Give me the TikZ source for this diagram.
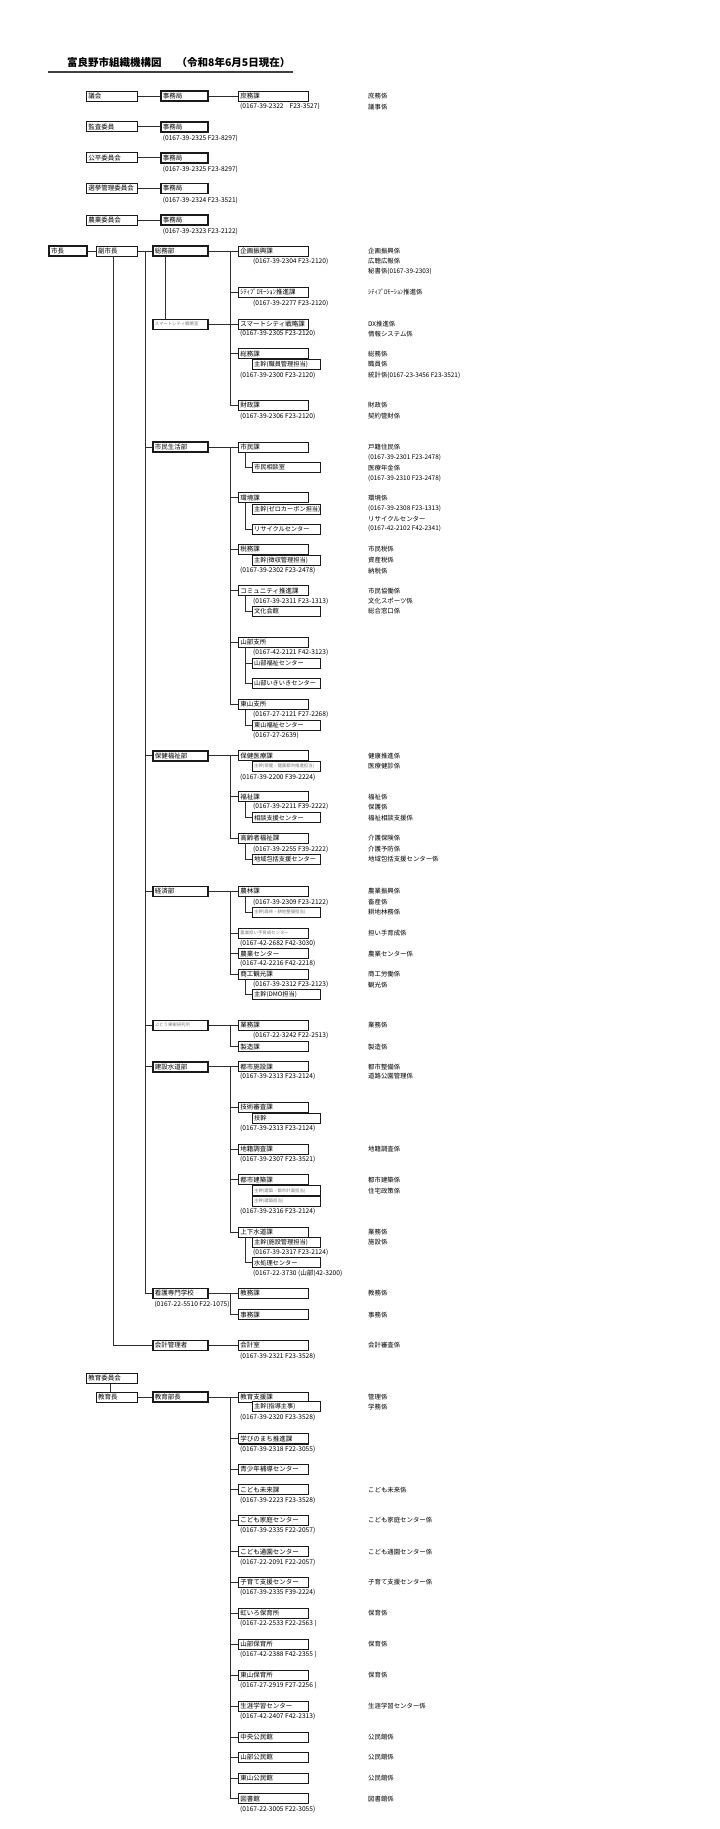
\documentclass[tikz,border=0pt]{standalone}
\usepackage{fontspec}
\setmainfont{Noto Sans CJK JP}
\usepackage{xcolor}
\usepackage{tikz}
\usetikzlibrary{shadows,calc}
\definecolor{FrameDark}{HTML}{1A1A1A}
\definecolor{LineDark}{HTML}{2E2E2E}
\definecolor{FaintText}{HTML}{7A7A7A}
\newcommand{\fsz}[1]{\fontsize{#1}{#1}\selectfont}
\tikzset{
  BX/.style={rectangle,draw=FrameDark,line width=0.8pt,fill=white,
             anchor=west,minimum height=10pt,inner xsep=2pt,inner ysep=0pt,
             align=left,font=\fsz{6.5}},
  sh/.style={drop shadow={shadow xshift=0.7pt,shadow yshift=-0.7pt,
             fill=FrameDark,opacity=1}},
  nK/.style={BX,sh,text width=66pt},
  nS/.style={BX,sh,text width=64.3pt,font=\fsz{6.2}},
  nA/.style={BX,sh,text width=47pt},
  nJ/.style={BX,text width=43pt,line width=1.6pt},
  nB/.style={BX,text width=51pt,line width=1.6pt},
  nF/.style={font=\fsz{4.4},text=FaintText},
  tl/.style={anchor=west,inner sep=0pt,font=\fsz{6.6}},
  nt/.style={anchor=west,inner sep=0pt,font=\fsz{6.4}},
  ln/.style={draw=LineDark,line width=0.7pt}
}
\begin{document}
\begin{tikzpicture}[x=1pt,y=-1pt]
  \useasboundingbox (0,0) rectangle (720,1829);
  % title
  \node[anchor=west,inner sep=0pt,font=\fsz{10.5}\bfseries] (title) at (67,62.7)
    {富良野市組織機構図\hspace{15pt}（令和8年6月5日現在）};
  \draw[line width=2.2pt,black!75] (48,71.7) -- (293,71.7);

  % trunk columns
  \coordinate (fx) at (113.3,0);
  \coordinate (bx) at (145,0);
  \coordinate (vx) at (165.7,0);
  \coordinate (tx) at (230,0);
  \coordinate (sx) at (245,0);
  \coordinate (ex) at (110,0);

  % committees
  \node[nA] (gikai) at (86,96) {議会};
  \node[nJ] (gikai-j) at (160,96) {事務局};
  \node[nK] (shomu) at (238,96) {庶務課};
  \node[tl] (shomu-t) at (240,106.7) {(0167-39-2322\hspace{6pt}F23-3527)};
  \node[nt] (shomu-n1) at (368,96) {庶務係};
  \node[nt] (shomu-n2) at (368,106.7) {議事係};
  \draw[ln] (gikai) -- (gikai-j);
  \draw[ln] (gikai-j) -- (shomu);
  \foreach \k/\y/\t/\p in {kansa/126.7/監査委員/(0167-39-2325 F23-8297),
      kohei/157.7/公平委員会/(0167-39-2325 F23-8297),
      senkyo/188.3/選挙管理委員会/(0167-39-2324 F23-3521),
      nogyo/220/農業委員会/(0167-39-2323 F23-2122)}{
    \node[nA] (\k) at (86,\y) {\t};
    \node[nJ] (\k-j) at (160,\y) {事務局};
    \node[tl] (\k-t) at (162.7,\y+11.7) {\p};
    \draw[ln] (\k) -- (\k-j);
  }

  % mayor
  \node[BX,text width=33.7pt,line width=2pt] (shicho) at (48,251) {市長};
  \node[nA,text width=37.6pt] (fuku) at (95.7,251) {副市長};
  \draw[ln] (shicho) -- (fuku);

  % 総務部
  \node[nB] (somubu) at (152,251) {総務部};
  \node[nK] (kikaku) at (238,251) {企画振興課};
  \node[tl] (kikaku-t) at (253,261.3) {(0167-39-2304 F23-2120)};
  \node[nK] (promo) at (238,292) {ｼﾃｨﾌﾟﾛﾓｰｼｮﾝ推進課};
  \node[tl] (promo-t) at (253,303) {(0167-39-2277 F23-2120)};
  \node[nB,nF] (smartS) at (152,324.3) {スマートシティ戦略室};
  \node[nK] (smart) at (238,324.3) {スマートシティ戦略課};
  \node[tl] (smart-t) at (240,333.7) {(0167-39-2305 F23-2120)};
  \node[nK] (somu) at (238,353.7) {総務課};
  \node[nS] (somuS) at (251.7,364.3) {主幹(職員管理担当)};
  \node[tl] (somu-t) at (240,375) {(0167-39-2300 F23-2120)};
  \node[nK] (zaisei) at (238,405) {財政課};
  \node[tl] (zaisei-t) at (240,416) {(0167-39-2306 F23-2120)};
  \foreach \y/\t [count=\i] in {251/企画振興係,261.3/広聴広報係,271/秘書係(0167-39-2303),
      292/ｼﾃｨﾌﾟﾛﾓｰｼｮﾝ推進係,324.3/DX推進係,333.7/情報システム係,
      353.7/総務係,364.3/職員係,375/統計係(0167-23-3456 F23-3521),
      405/財政係,416/契約管財係}
    \node[nt] (somu-n\i) at (368,\y) {\t};
  \draw[ln] (fuku) -- (somubu);
  \draw[ln] (somubu) -- (kikaku);
  \draw[ln] (tx |- kikaku.west) -- (tx |- zaisei.west) -- (zaisei.west);
  \foreach \n in {promo,smart,somu} \draw[ln] (tx |- \n.west) -- (\n.west);
  \draw[ln] (vx |- somubu.south) -- (vx |- smartS.north);
  \draw[ln] (smartS) -- (smart);

  % 市民生活部
  \node[nB] (shiminbu) at (152,447) {市民生活部};
  \node[nK] (shimin) at (238,447) {市民課};
  \node[nS] (soudan) at (251.7,467) {市民相談室};
  \node[nK] (kankyo) at (238,497.7) {環境課};
  \node[nS] (kankyoS) at (251.7,509) {主幹(ゼロカーボン担当)};
  \node[nS] (recycle) at (251.7,529) {リサイクルセンター};
  \node[nK] (zeimu) at (238,549) {税務課};
  \node[nS] (zeimuS) at (251.7,560) {主幹(徴収管理担当)};
  \node[tl] (zeimu-t) at (240,570.7) {(0167-39-2302 F23-2478)};
  \node[nK] (comm) at (238,590.7) {コミュニティ推進課};
  \node[tl] (comm-t) at (253,601.3) {(0167-39-2311 F23-1313)};
  \node[nS] (bunka) at (251.7,611.3) {文化会館};
  \node[nK] (yamabe) at (238,642) {山部支所};
  \node[tl] (yamabe-t) at (253,652.7) {(0167-42-2121 F42-3123)};
  \node[nS] (yfuku) at (251.7,663) {山部福祉センター};
  \node[nS] (yikiiki) at (251.7,683.3) {山部いきいきセンター};
  \node[nK] (higashi) at (238,704.3) {東山支所};
  \node[tl] (higashi-t) at (253,714.7) {(0167-27-2121 F27-2268)};
  \node[nS] (hfuku) at (251.7,725) {東山福祉センター};
  \node[tl] (hfuku-t) at (253,735.3) {(0167-27-2639)};
  \foreach \y/\t [count=\i] in {447/戸籍住民係,457.7/(0167-39-2301 F23-2478),
      468/医療年金係,478.7/(0167-39-2310 F23-2478),
      498/環境係,508.7/(0167-39-2308 F23-1313),519/リサイクルセンター,
      529/(0167-42-2102 F42-2341),549/市民税係,560/資産税係,570.7/納税係,
      590.7/市民協働係,601.3/文化スポーツ係,611.3/総合窓口係}
    \node[nt] (shimin-n\i) at (368,\y) {\t};
  \draw[ln] (shiminbu) -- (shimin);
  \draw[ln] (tx |- shimin.west) -- (tx |- higashi.west) -- (higashi.west);
  \foreach \n in {kankyo,zeimu,comm,yamabe} \draw[ln] (tx |- \n.west) -- (\n.west);
  \draw[ln] (sx |- shimin.south) |- (soudan.west);
  \draw[ln] (sx |- kankyo.south) |- (recycle.west);
  \draw[ln] (sx |- comm.south) |- (bunka.west);
  \draw[ln] (sx |- yamabe.south) |- (yikiiki.west);
  \draw[ln] (sx |- yfuku.west) -- (yfuku.west);
  \draw[ln] (sx |- higashi.south) |- (hfuku.west);

  % 保健福祉部
  \node[nB] (hokenbu) at (152,755.7) {保健福祉部};
  \node[nK] (hoken) at (238,755.7) {保健医療課};
  \node[nS,nF] (hokenS) at (251.7,766) {主幹(保健・健康都市推進担当)};
  \node[tl] (hoken-t) at (240,777) {(0167-39-2200 F39-2224)};
  \node[nK] (fukushi) at (238,796.7) {福祉課};
  \node[tl] (fukushi-t) at (253,806.7) {(0167-39-2211 F39-2222)};
  \node[nS] (sodan) at (251.7,817.7) {相談支援センター};
  \node[nK] (korei) at (238,838) {高齢者福祉課};
  \node[tl] (korei-t) at (253,849) {(0167-39-2255 F39-2222)};
  \node[nS] (hokatsu) at (251.7,859) {地域包括支援センター};
  \foreach \y/\t [count=\i] in {755.7/健康推進係,766/医療健診係,796.7/福祉係,
      806.7/保護係,817.7/福祉相談支援係,838/介護保険係,849/介護予防係,
      859/地域包括支援センター係}
    \node[nt] (hoken-n\i) at (368,\y) {\t};
  \draw[ln] (hokenbu) -- (hoken);
  \draw[ln] (tx |- hoken.west) -- (tx |- korei.west) -- (korei.west);
  \draw[ln] (tx |- fukushi.west) -- (fukushi.west);
  \draw[ln] (sx |- fukushi.south) |- (sodan.west);
  \draw[ln] (sx |- korei.south) |- (hokatsu.west);

  % 経済部
  \node[nB] (keizaibu) at (152,891.3) {経済部};
  \node[nK] (norin) at (238,891.3) {農林課};
  \node[tl] (norin-t) at (253,902.3) {(0167-39-2309 F23-2122)};
  \node[nS,nF] (norinS) at (251.7,912.3) {主幹(森林・耕地整備担当)};
  \node[nK,nF] (ninaite) at (238,933.3) {農業担い手育成センター};
  \node[tl] (ninaite-t) at (240,943) {(0167-42-2682 F42-3030)};
  \node[nK] (nocen) at (238,953.7) {農業センター};
  \node[tl] (nocen-t) at (240,963.7) {(0167-42-2216 F42-2218)};
  \node[nK] (shoko) at (238,974) {商工観光課};
  \node[tl] (shoko-t) at (253,984.7) {(0167-39-2312 F23-2123)};
  \node[nS] (dmo) at (251.7,994.7) {主幹(DMO担当)};
  \foreach \y/\t [count=\i] in {891.3/農業振興係,902.3/畜産係,912.3/耕地林務係,
      933.3/担い手育成係,953.7/農業センター係,974/商工労働係,984.7/観光係}
    \node[nt] (keizai-n\i) at (368,\y) {\t};
  \draw[ln] (keizaibu) -- (norin);
  \draw[ln] (tx |- norin.west) -- (tx |- shoko.west) -- (shoko.west);
  \foreach \n in {ninaite,nocen} \draw[ln] (tx |- \n.west) -- (\n.west);
  \draw[ln] (sx |- norin.south) |- (norinS.west);
  \draw[ln] (sx |- shoko.south) |- (dmo.west);

  % ぶどう果樹研究所
  \node[nB,nF] (budo) at (152,1025.3) {ぶどう果樹研究所};
  \node[nK] (gyomu) at (238,1025.3) {業務課};
  \node[tl] (gyomu-t) at (253,1035.7) {(0167-22-3242 F22-2513)};
  \node[nK] (seizo) at (238,1046.7) {製造課};
  \node[nt] (budo-n1) at (368,1025.3) {業務係};
  \node[nt] (budo-n2) at (368,1046.7) {製造係};
  \draw[ln] (budo) -- (gyomu);
  \draw[ln] (tx |- gyomu.west) -- (tx |- seizo.west) -- (seizo.west);

  % 建設水道部
  \node[nB] (kensetsubu) at (152,1066.7) {建設水道部};
  \node[nK] (toshis) at (238,1066.7) {都市施設課};
  \node[tl] (toshis-t) at (240,1076.3) {(0167-39-2313 F23-2124)};
  \node[nK] (gijutsu) at (238,1107) {技術審査課};
  \node[nS] (gikan) at (251.7,1118) {技幹};
  \node[tl] (gijutsu-t) at (240,1128.7) {(0167-39-2313 F23-2124)};
  \node[nK] (chiseki) at (238,1149.3) {地籍調査課};
  \node[tl] (chiseki-t) at (240,1159.3) {(0167-39-2307 F23-3521)};
  \node[nK] (kenchiku) at (238,1179.7) {都市建築課};
  \node[nS,nF] (kenchikuS1) at (251.7,1190.8) {主幹(建築・都市計画担当)};
  \node[nS,nF] (kenchikuS2) at (251.7,1201.3) {主幹(建築担当)};
  \node[tl] (kenchiku-t) at (240,1211.7) {(0167-39-2316 F23-2124)};
  \node[nK] (jogesui) at (238,1232) {上下水道課};
  \node[nS] (jogesuiS) at (251.7,1242) {主幹(施設管理担当)};
  \node[tl] (jogesui-t) at (253,1252.3) {(0167-39-2317 F23-2124)};
  \node[nS] (suishori) at (251.7,1262.7) {水処理センター};
  \node[tl] (suishori-t) at (253,1273) {(0167-22-3730 (山部)42-3200)};
  \foreach \y/\t [count=\i] in {1066.7/都市整備係,1076.3/道路公園管理係,
      1149.3/地籍調査係,1180/都市建築係,1190.8/住宅政策係,1232/業務係,1242/施設係}
    \node[nt] (kensetsu-n\i) at (368,\y) {\t};
  \draw[ln] (kensetsubu) -- (toshis);
  \draw[ln] (tx |- toshis.west) -- (tx |- jogesui.west) -- (jogesui.west);
  \foreach \n in {gijutsu,chiseki,kenchiku} \draw[ln] (tx |- \n.west) -- (\n.west);
  \draw[ln] (sx |- jogesui.south) |- (suishori.west);

  % 看護専門学校
  \node[nB] (kango) at (152,1293.3) {看護専門学校};
  \node[tl] (kango-t) at (154.3,1304) {(0167-22-5510 F22-1075)};
  \node[nK] (kyomu) at (238,1293.3) {教務課};
  \node[nK] (jimuka) at (238,1314.7) {事務課};
  \node[nt] (kango-n1) at (368,1293.3) {教務係};
  \node[nt] (kango-n2) at (368,1314.7) {事務係};
  \draw[ln] (kango) -- (kyomu);
  \draw[ln] (tx |- kyomu.west) -- (tx |- jimuka.west) -- (jimuka.west);

  % 部 trunk from 副市長
  \draw[ln] (bx |- somubu.west) -- (bx |- kango.west) -- (kango.west);
  \foreach \n in {shiminbu,hokenbu,keizaibu,budo,kensetsubu}
    \draw[ln] (bx |- \n.west) -- (\n.west);

  % 会計管理者
  \node[nB] (kaikeikan) at (152,1345.3) {会計管理者};
  \node[nK] (kaikei) at (238,1345.3) {会計室};
  \node[tl] (kaikei-t) at (240,1356.3) {(0167-39-2321 F23-3528)};
  \node[nt] (kaikei-n) at (368,1345.3) {会計審査係};
  \draw[ln] (kaikeikan) -- (kaikei);
  \draw[ln] (fx |- fuku.south) |- (kaikeikan.west);

  % 教育委員会
  \node[nA] (kyoiin) at (86,1378.3) {教育委員会};
  \node[nA,text width=37.6pt] (kyoikucho) at (95.7,1397) {教育長};
  \node[nB] (kyoikubu) at (152,1397) {教育部長};
  \draw[ln] (ex |- kyoiin.south) -- (ex |- kyoikucho.north);
  \draw[ln] (kyoikucho) -- (kyoikubu);
  \node[nK] (shien) at (238,1397) {教育支援課};
  \node[nS] (shienS) at (251.7,1406.7) {主幹(指導主事)};
  \node[tl] (shien-t) at (240,1417.7) {(0167-39-2320 F23-3528)};
  \draw[ln] (kyoikubu) -- (shien);
  \foreach \k/\y/\t/\p in {manabi/1438.8/学びのまち推進課/(0167-39-2318 F22-3055),
      mirai/1489.7/こども未来課/(0167-39-2223 F23-3528),
      katei/1520.3/こども家庭センター/(0167-39-2335 F22-2057),
      tsuen/1551.7/こども通園センター/(0167-22-2091 F22-2057),
      kosodate/1582.3/子育て支援センター/(0167-39-2335 F39-2224),
      niji/1613.3/虹いろ保育所/(0167-22-2533 F22-2563 ),
      yhoiku/1644/山部保育所/(0167-42-2388 F42-2355 ),
      hhoiku/1675/東山保育所/(0167-27-2919 F27-2256 ),
      shogai/1706/生涯学習センター/(0167-42-2407 F42-2313),
      tosho/1798.7/図書館/(0167-22-3005 F22-3055)}{
    \node[nK] (\k) at (238,\y) {\t};
    \node[tl] (\k-t) at (240,\y+10.3) {\p};
    \draw[ln] (tx |- \k.west) -- (\k.west);
  }
  \foreach \k/\y/\t in {seishonen/1469/青少年補導センター,chuo/1737/中央公民館,
      ykomin/1757.3/山部公民館,hkomin/1778/東山公民館}{
    \node[nK] (\k) at (238,\y) {\t};
    \draw[ln] (tx |- \k.west) -- (\k.west);
  }
  \draw[ln] (tx |- shien.west) -- (tx |- tosho.west);
  \foreach \y/\t [count=\i] in {1397/管理係,1406.7/学務係,1489.7/こども未来係,
      1520.3/こども家庭センター係,1551.7/こども通園センター係,
      1582.3/子育て支援センター係,1613.3/保育係,1644/保育係,1675/保育係,
      1706/生涯学習センター係,1737/公民館係,1757.3/公民館係,1778/公民館係,
      1798.7/図書館係}
    \node[nt] (kyoiku-n\i) at (368,\y) {\t};
\end{tikzpicture}
\end{document}
